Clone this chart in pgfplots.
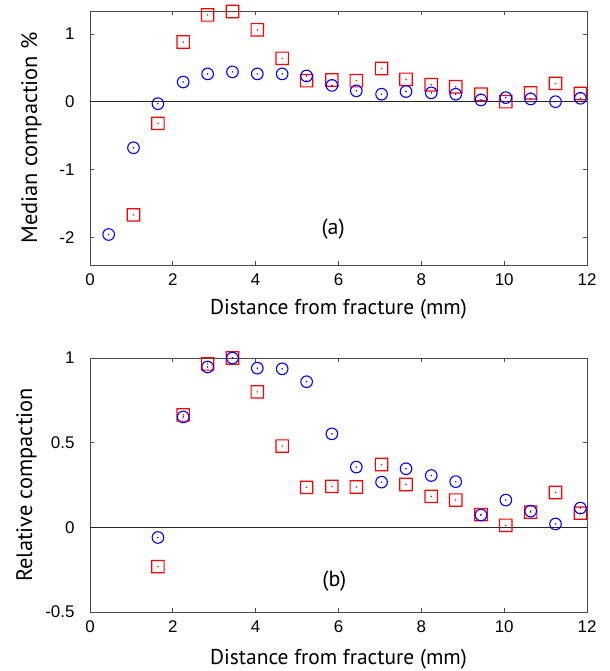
\documentclass[border=0pt]{standalone}
\usepackage{fontspec}
\setmainfont{Liberation Sans}
\newfontfamily\labelfont{PT Sans}
\usepackage{pgfplots}
\pgfplotsset{compat=1.18}

% square ring drawn as an even-odd filled shape (outer half side = mark size, ring width 1.2bp)
\pgfdeclareplotmark{sqring}{%
  \pgfmathsetlengthmacro\outr{\pgfplotmarksize+0.6bp}%
  \pgfmathsetlengthmacro\innr{\pgfplotmarksize-0.6bp}%
  \pgfpathmoveto{\pgfqpoint{-\outr}{-\outr}}%
  \pgfpathlineto{\pgfqpoint{\outr}{-\outr}}%
  \pgfpathlineto{\pgfqpoint{\outr}{\outr}}%
  \pgfpathlineto{\pgfqpoint{-\outr}{\outr}}%
  \pgfpathclose
  \pgfpathmoveto{\pgfqpoint{-\innr}{-\innr}}%
  \pgfpathlineto{\pgfqpoint{-\innr}{\innr}}%
  \pgfpathlineto{\pgfqpoint{\innr}{\innr}}%
  \pgfpathlineto{\pgfqpoint{\innr}{-\innr}}%
  \pgfpathclose
  \pgfseteorule
  \pgfusepathqfill
}

\pgfplotstableread{
x y
0.45 -1.96
1.05 -0.68
1.64 -0.03
2.25 0.29
2.84 0.41
3.44 0.44
4.04 0.41
4.64 0.41
5.23 0.38
5.84 0.24
6.43 0.16
7.04 0.11
7.63 0.15
8.24 0.13
8.83 0.11
9.44 0.025
10.04 0.06
10.64 0.04
11.24 0.0
11.84 0.05
}\topblue

\pgfplotstableread{
x y
1.05 -1.67
1.64 -0.32
2.25 0.88
2.84 1.28
3.44 1.33
4.04 1.06
4.64 0.64
5.23 0.31
5.84 0.32
6.43 0.31
7.04 0.49
7.63 0.33
8.24 0.25
8.83 0.22
9.44 0.11
10.04 0.0
10.64 0.13
11.24 0.27
11.84 0.12
}\topred

\pgfplotstableread{
x y
1.64 -0.06
2.25 0.652
2.84 0.947
3.44 1.0
4.04 0.94
4.64 0.936
5.23 0.86
5.84 0.552
6.43 0.356
7.04 0.267
7.63 0.346
8.24 0.306
8.83 0.27
9.44 0.073
10.04 0.161
10.64 0.096
11.24 0.02
11.84 0.114
}\botblue

\pgfplotstableread{
x y
1.64 -0.232
2.25 0.664
2.84 0.965
3.44 1.0
4.04 0.80
4.64 0.48
5.23 0.236
5.84 0.242
6.43 0.238
7.04 0.371
7.63 0.253
8.24 0.183
8.83 0.161
9.44 0.075
10.04 0.012
10.64 0.09
11.24 0.206
11.84 0.084
}\botred

\pgfplotsset{
  panel/.style={
    scale only axis, width=497bp, height=254bp,
    xmin=0, xmax=12, xtick={0,2,...,12},
    tick align=inside, tick pos=both,
    major tick length=4bp,
    axis line style={draw=black!70, line width=0.8bp},
    every tick/.style={draw=black!70, line width=0.8bp},
    tick label style={font=\fontsize{17}{17}\selectfont},
    /pgf/number format/assume math mode=true,
    xticklabel style={yshift=-5bp},
    yticklabel style={xshift=-12bp},
    xlabel style={font=\labelfont\fontsize{21.5}{21.5}\selectfont},
    ylabel style={font=\labelfont\fontsize{22.5}{22.5}\selectfont},
    clip=false,
  },
  bluem/.style={only marks, color=blue, mark=o, mark size=5.8bp, mark options={draw=blue, fill=none, line width=1.1bp}},
  redm/.style={only marks, color=red, mark=sqring, mark size=6.2bp, mark options={fill=red, draw=none}},
  bdot/.style={only marks, color=blue, mark=*, mark size=0.5bp, mark options={draw=blue, fill=blue}},
  rdot/.style={only marks, color=red, mark=*, mark size=0.5bp, mark options={draw=red, fill=red}},
}

\begin{document}
\begin{tikzpicture}
\path[use as bounding box] (-90bp,11bp) rectangle (520bp,-660bp);
\begin{axis}[panel, at={(0,0)}, anchor=north west,
  ymin=-2.41, ymax=1.338, ytick={-2,-1,0,1},
  xlabel={Distance from fracture (mm)},
  ylabel={Median compaction \%},
  xlabel style={at={(axis description cs:0.5,-0.173)}, anchor=center},
  ylabel style={at={(axis description cs:-0.118,0.5)}, anchor=center},
]
\addplot[black!85, line width=0.8bp] coordinates {(0,0) (12,0)};
\addplot[redm] table {\topred};
\addplot[rdot] table {\topred};
\addplot[bluem] table {\topblue};
\addplot[bdot] table {\topblue};
\node[font=\labelfont\fontsize{22}{22}\selectfont] at (axis cs:5.87,-1.88) {(a)};
\end{axis}

\begin{axis}[panel, at={(0,-347bp)}, anchor=north west,
  ymin=-0.5, ymax=1, ytick={-0.5,0,0.5,1},
  yticklabel style={/pgf/number format/.cd, fixed, precision=1},
  xlabel={Distance from fracture (mm)},
  ylabel={Relative compaction},
  xlabel style={at={(axis description cs:0.5,-0.185)}, anchor=center},
  ylabel style={at={(axis description cs:-0.128,0.5)}, anchor=center},
]
\addplot[black!85, line width=0.8bp] coordinates {(0,0) (12,0)};
\addplot[redm] table {\botred};
\addplot[rdot] table {\botred};
\addplot[bluem] table {\botblue};
\addplot[bdot] table {\botblue};
\node[font=\labelfont\fontsize{22}{22}\selectfont] at (axis cs:5.9,-0.32) {(b)};
\end{axis}
\end{tikzpicture}
\end{document}
